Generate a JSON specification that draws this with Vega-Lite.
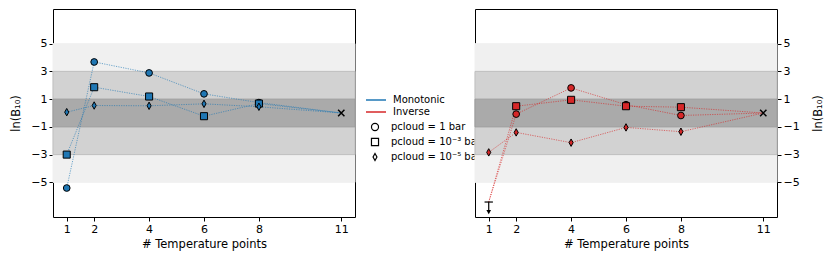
{
  "$schema": "https://vega.github.io/schema/vega-lite/v6.json",
  "padding": {"left": 10, "top": 8, "right": 5, "bottom": 5},
  "background": "white",
  "datasets": {
    "bands": [
      {"lo": -5, "hi": 5, "band": "outer"},
      {"lo": -3, "hi": 3, "band": "middle"},
      {"lo": -1, "hi": 1, "band": "inner"}
    ],
    "mono": [
      {"model": "Monotonic", "p": "pcloud = 1 bar", "x": 1, "y": -5.41, "ul": false},
      {"model": "Monotonic", "p": "pcloud = 1 bar", "x": 2, "y": 3.68, "ul": false},
      {"model": "Monotonic", "p": "pcloud = 1 bar", "x": 4, "y": 2.89, "ul": false},
      {"model": "Monotonic", "p": "pcloud = 1 bar", "x": 6, "y": 1.38, "ul": false},
      {"model": "Monotonic", "p": "pcloud = 1 bar", "x": 8, "y": 0.75, "ul": false},
      {"model": "Monotonic", "p": "pcloud = 1 bar", "x": 11, "y": 0, "ul": false},
      {"model": "Monotonic", "p": "pcloud = 10⁻³ bar", "x": 1, "y": -3.0, "ul": false},
      {"model": "Monotonic", "p": "pcloud = 10⁻³ bar", "x": 2, "y": 1.86, "ul": false},
      {"model": "Monotonic", "p": "pcloud = 10⁻³ bar", "x": 4, "y": 1.19, "ul": false},
      {"model": "Monotonic", "p": "pcloud = 10⁻³ bar", "x": 6, "y": -0.23, "ul": false},
      {"model": "Monotonic", "p": "pcloud = 10⁻³ bar", "x": 8, "y": 0.68, "ul": false},
      {"model": "Monotonic", "p": "pcloud = 10⁻³ bar", "x": 11, "y": 0, "ul": false},
      {"model": "Monotonic", "p": "pcloud = 10⁻⁵ bar", "x": 1, "y": 0.06, "ul": false},
      {"model": "Monotonic", "p": "pcloud = 10⁻⁵ bar", "x": 2, "y": 0.54, "ul": false},
      {"model": "Monotonic", "p": "pcloud = 10⁻⁵ bar", "x": 4, "y": 0.52, "ul": false},
      {"model": "Monotonic", "p": "pcloud = 10⁻⁵ bar", "x": 6, "y": 0.66, "ul": false},
      {"model": "Monotonic", "p": "pcloud = 10⁻⁵ bar", "x": 8, "y": 0.45, "ul": false},
      {"model": "Monotonic", "p": "pcloud = 10⁻⁵ bar", "x": 11, "y": 0, "ul": false}
    ],
    "inv": [
      {"model": "Inverse", "p": "pcloud = 1 bar", "x": 1, "y": -6.42, "ul": true},
      {"model": "Inverse", "p": "pcloud = 1 bar", "x": 2, "y": -0.08, "ul": false},
      {"model": "Inverse", "p": "pcloud = 1 bar", "x": 4, "y": 1.81, "ul": false},
      {"model": "Inverse", "p": "pcloud = 1 bar", "x": 6, "y": 0.6, "ul": false},
      {"model": "Inverse", "p": "pcloud = 1 bar", "x": 8, "y": -0.18, "ul": false},
      {"model": "Inverse", "p": "pcloud = 1 bar", "x": 11, "y": 0, "ul": false},
      {"model": "Inverse", "p": "pcloud = 10⁻³ bar", "x": 1, "y": -6.42, "ul": true},
      {"model": "Inverse", "p": "pcloud = 10⁻³ bar", "x": 2, "y": 0.49, "ul": false},
      {"model": "Inverse", "p": "pcloud = 10⁻³ bar", "x": 4, "y": 0.95, "ul": false},
      {"model": "Inverse", "p": "pcloud = 10⁻³ bar", "x": 6, "y": 0.49, "ul": false},
      {"model": "Inverse", "p": "pcloud = 10⁻³ bar", "x": 8, "y": 0.42, "ul": false},
      {"model": "Inverse", "p": "pcloud = 10⁻³ bar", "x": 11, "y": 0, "ul": false},
      {"model": "Inverse", "p": "pcloud = 10⁻⁵ bar", "x": 1, "y": -2.84, "ul": false},
      {"model": "Inverse", "p": "pcloud = 10⁻⁵ bar", "x": 2, "y": -1.4, "ul": false},
      {"model": "Inverse", "p": "pcloud = 10⁻⁵ bar", "x": 4, "y": -2.14, "ul": false},
      {"model": "Inverse", "p": "pcloud = 10⁻⁵ bar", "x": 6, "y": -1.04, "ul": false},
      {"model": "Inverse", "p": "pcloud = 10⁻⁵ bar", "x": 8, "y": -1.35, "ul": false},
      {"model": "Inverse", "p": "pcloud = 10⁻⁵ bar", "x": 11, "y": 0, "ul": false}
    ],
    "keys": [
      {"model": "Monotonic", "p": "pcloud = 1 bar"},
      {"model": "Inverse", "p": "pcloud = 10⁻³ bar"},
      {"model": "Inverse", "p": "pcloud = 10⁻⁵ bar"}
    ],
    "ref": [{"x": 11, "y": 0}],
    "limit": [{"x": 1, "cap": -6.42, "tip": -7.15}]
  },
  "bounds": "flush",
  "spacing": 50,
  "resolve": {
    "scale": {"x": "independent", "y": "independent", "color": "independent", "shape": "independent", "fill": "independent", "size": "independent"},
    "legend": {"color": "independent", "shape": "independent", "fill": "independent", "size": "independent"}
  },
  "hconcat": [
    {
      "width": 302,
      "height": 208,
      "layer": [
        {
          "data": {"name": "bands"},
          "mark": {"type": "rect", "strokeWidth": 1},
          "encoding": {
            "y": {"field": "lo", "type": "quantitative", "scale": {"domain": [-7.5, 7.5], "nice": false, "zero": false}, "axis": {"values": [-5, -3, -1, 1, 3, 5], "title": "ln(B₁₀)", "orient": "left", "titlePadding": 9}},
            "y2": {"field": "hi"},
            "fill": {"field": "band", "type": "nominal", "scale": {"domain": ["outer", "middle", "inner"], "range": ["#f0f0f0", "#d2d2d2", "#aaaaaa"]}, "legend": null},
            "stroke": {"field": "band", "type": "nominal", "scale": {"domain": ["outer", "middle", "inner"], "range": ["#f0f0f0", "#bfbfbf", "#9c9c9c"]}, "legend": null}
          }
        },
        {
          "data": {"name": "mono"},
          "mark": {"type": "line", "strokeWidth": 0.8, "strokeDash": [1.2, 1.2], "opacity": 0.8},
          "encoding": {
            "x": {"field": "x", "type": "quantitative", "scale": {"domain": [0.5, 11.5], "nice": false, "zero": false}, "axis": {"values": [1, 2, 4, 6, 8, 11], "title": "# Temperature points"}},
            "y": {"field": "y", "type": "quantitative"},
            "detail": {"field": "p"},
            "order": {"field": "x"},
            "color": {"field": "model", "type": "nominal", "scale": {"domain": ["Monotonic", "Inverse"], "range": ["#1f77b4", "#d62728"]}, "legend": null}
          }
        },
        {
          "data": {"name": "mono"},
          "transform": [{"filter": "datum.x < 11"}],
          "mark": {"type": "point", "filled": true, "fill": "#1f77b4", "stroke": "black", "strokeWidth": 1, "opacity": 1},
          "encoding": {
            "x": {"field": "x", "type": "quantitative"},
            "y": {"field": "y", "type": "quantitative"},
            "shape": {"field": "p", "type": "nominal", "scale": {"domain": ["pcloud = 1 bar", "pcloud = 10⁻³ bar", "pcloud = 10⁻⁵ bar"], "range": ["circle", "square", "M0,-1L0.55,0L0,1L-0.55,0Z"]}, "legend": null},
            "size": {"field": "p", "type": "nominal", "scale": {"domain": ["pcloud = 1 bar", "pcloud = 10⁻³ bar", "pcloud = 10⁻⁵ bar"], "range": [45, 55, 100]}, "legend": null}
          }
        },
        {
          "data": {"name": "ref"},
          "mark": {"type": "point", "shape": "M-1,-1L1,1M-1,1L1,-1", "stroke": "black", "strokeWidth": 1.5, "size": 40, "opacity": 1},
          "encoding": {
            "x": {"field": "x", "type": "quantitative"},
            "y": {"field": "y", "type": "quantitative"}
          }
        }
      ]
    },
    {
      "width": 20,
      "height": 208,
      "view": {"stroke": null},
      "data": {"name": "keys"},
      "transform": [{"filter": "false"}],
      "layer": [
        {
          "mark": {"type": "line", "strokeWidth": 1.5, "opacity": 1},
          "encoding": {
            "color": {
              "field": "model", "type": "nominal",
              "scale": {"domain": ["Monotonic", "Inverse"], "range": ["#1f77b4", "#d62728"]},
              "legend": {"title": null, "orient": "none", "legendX": -35, "legendY": 85, "symbolType": "M-2,0L2,0", "symbolSize": 100, "symbolStrokeWidth": 1.5, "labelFontSize": 10, "rowPadding": 1, "padding": 0, "labelOffset": 11}
            }
          }
        },
        {
          "mark": {"type": "point", "filled": false, "stroke": "black", "strokeWidth": 1.2, "opacity": 1, "size": 45},
          "encoding": {
            "shape": {
              "field": "p", "type": "nominal",
              "scale": {"domain": ["pcloud = 1 bar", "pcloud = 10⁻³ bar", "pcloud = 10⁻⁵ bar"], "range": ["circle", "square", "M0,-1L0.55,0L0,1L-0.55,0Z"]},
              "legend": {"title": null, "orient": "none", "legendX": -35, "legendY": 113, "labelFontSize": 10, "rowPadding": 3, "padding": 0, "labelOffset": 11, "symbolSize": 50, "symbolStrokeColor": "black", "symbolFillColor": "transparent", "symbolStrokeWidth": 1.2}
            }
          }
        }
      ]
    },
    {
      "width": 302,
      "height": 208,
      "layer": [
        {
          "data": {"name": "bands"},
          "mark": {"type": "rect", "strokeWidth": 1},
          "encoding": {
            "y": {"field": "lo", "type": "quantitative", "scale": {"domain": [-7.5, 7.5], "nice": false, "zero": false}, "axis": {"values": [-5, -3, -1, 1, 3, 5], "title": "ln(B₁₀)", "orient": "right", "titleAngle": 270, "titlePadding": 24}},
            "y2": {"field": "hi"},
            "fill": {"field": "band", "type": "nominal", "scale": {"domain": ["outer", "middle", "inner"], "range": ["#f0f0f0", "#d2d2d2", "#aaaaaa"]}, "legend": null},
            "stroke": {"field": "band", "type": "nominal", "scale": {"domain": ["outer", "middle", "inner"], "range": ["#f0f0f0", "#bfbfbf", "#9c9c9c"]}, "legend": null}
          }
        },
        {
          "data": {"name": "inv"},
          "mark": {"type": "line", "strokeWidth": 0.8, "strokeDash": [1.2, 1.2], "opacity": 0.8},
          "encoding": {
            "x": {"field": "x", "type": "quantitative", "scale": {"domain": [0.5, 11.5], "nice": false, "zero": false}, "axis": {"values": [1, 2, 4, 6, 8, 11], "title": "# Temperature points"}},
            "y": {"field": "y", "type": "quantitative"},
            "detail": {"field": "p"},
            "order": {"field": "x"},
            "color": {"field": "model", "type": "nominal", "scale": {"domain": ["Monotonic", "Inverse"], "range": ["#1f77b4", "#d62728"]}, "legend": null}
          }
        },
        {
          "data": {"name": "inv"},
          "transform": [{"filter": "datum.x < 11 && !datum.ul"}],
          "mark": {"type": "point", "filled": true, "fill": "#d62728", "stroke": "black", "strokeWidth": 1, "opacity": 1},
          "encoding": {
            "x": {"field": "x", "type": "quantitative"},
            "y": {"field": "y", "type": "quantitative"},
            "shape": {"field": "p", "type": "nominal", "scale": {"domain": ["pcloud = 1 bar", "pcloud = 10⁻³ bar", "pcloud = 10⁻⁵ bar"], "range": ["circle", "square", "M0,-1L0.55,0L0,1L-0.55,0Z"]}, "legend": null},
            "size": {"field": "p", "type": "nominal", "scale": {"domain": ["pcloud = 1 bar", "pcloud = 10⁻³ bar", "pcloud = 10⁻⁵ bar"], "range": [45, 55, 100]}, "legend": null}
          }
        },
        {
          "data": {"name": "ref"},
          "mark": {"type": "point", "shape": "M-1,-1L1,1M-1,1L1,-1", "stroke": "black", "strokeWidth": 1.5, "size": 40, "opacity": 1},
          "encoding": {
            "x": {"field": "x", "type": "quantitative"},
            "y": {"field": "y", "type": "quantitative"}
          }
        },
        {
          "data": {"name": "limit"},
          "mark": {"type": "rule", "color": "black", "strokeWidth": 1.2},
          "encoding": {
            "x": {"field": "x", "type": "quantitative"},
            "y": {"field": "cap", "type": "quantitative"},
            "y2": {"field": "tip"}
          }
        },
        {
          "data": {"name": "limit"},
          "mark": {"type": "point", "shape": "M-1,0L1,0", "stroke": "black", "strokeWidth": 1.2, "size": 70, "opacity": 1},
          "encoding": {
            "x": {"field": "x", "type": "quantitative"},
            "y": {"field": "cap", "type": "quantitative"}
          }
        },
        {
          "data": {"name": "limit"},
          "mark": {"type": "point", "shape": "triangle-down", "filled": true, "fill": "black", "size": 22, "opacity": 1},
          "encoding": {
            "x": {"field": "x", "type": "quantitative"},
            "y": {"field": "tip", "type": "quantitative"}
          }
        }
      ]
    }
  ],
  "config": {
    "font": "DejaVu Sans",
    "view": {"stroke": "black", "strokeWidth": 1},
    "axis": {
      "grid": false,
      "domain": false,
      "tickColor": "black",
      "tickSize": 4,
      "labelColor": "black",
      "titleColor": "black",
      "labelFontSize": 11,
      "titleFontSize": 11.5,
      "titleFontWeight": "normal",
      "labelPadding": 2,
      "titlePadding": 4
    },
    "legend": {"labelColor": "black", "labelFont": "DejaVu Sans"}
  }
}
